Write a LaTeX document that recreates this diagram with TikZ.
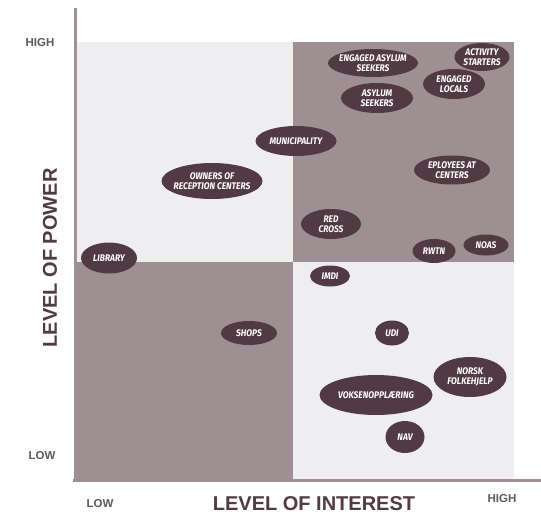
\documentclass[tikz,border=0pt]{standalone}
\usepackage{fontspec}
\setmainfont{Liberation Sans}
\newfontfamily\stakefont[FakeStretch=0.88]{Fira Sans}
\usetikzlibrary{shapes.geometric}
\definecolor{quadlight}{HTML}{EEEEF0}
\definecolor{quaddark}{HTML}{9D8F92}
\definecolor{stakefill}{HTML}{523A45}
\definecolor{axisline}{HTML}{9E9094}
\definecolor{levelgray}{HTML}{5B5B5B}

\begin{document}
\begin{tikzpicture}[x=1pt,y=-1pt,
	stake/.style={
		ellipse,
		fill=stakefill,
		text=white,
		inner xsep=-3pt,
		inner ysep=-2pt,
		align=center,
		font=\stakefont\bfseries\itshape\fontsize{9.6}{10}\selectfont
	},
	level/.style={font=\bfseries\fontsize{11.5}{12}\selectfont,text=levelgray},
	axistitle/.style={font=\bfseries\fontsize{20}{22}\selectfont,text=stakefill}
	]
	\useasboundingbox (0,0) rectangle (541,514);
	
	% quadrants
	\fill[quadlight] (77,42) rectangle (293,262);
	\fill[quaddark] (293,42) rectangle (514,262);
	\fill[quaddark] (77,262) rectangle (293,479);
	\fill[quadlight] (293,262) rectangle (514,479);
	
	% axes
	\draw[axisline,line width=3pt] (75,8) -- (75,481);
	\draw[axisline,line width=3pt] (73,480) -- (541,480);
	
	\node[level] (powhigh) at (40,43) {HIGH};
	\node[level] (powlow) at (42,456) {LOW};
	\node[level] (intlow) at (100,504) {LOW};
	\node[level] (inthigh) at (502,499) {HIGH};
	
	\node[axistitle,rotate=90] (power) at (50,258) {LEVEL OF POWER};
	\node[axistitle] (interest) at (314,504) {LEVEL OF INTEREST};
	
	% stakeholders
	\node[stake,minimum width=90pt,minimum height=28pt] (easylum) at (373,63) {ENGAGED ASYLUM\\SEEKERS};
	\node[stake,minimum width=55pt,minimum height=28pt] (starters) at (482,57) {ACTIVITY\\STARTERS};
	\node[stake,minimum width=62pt,minimum height=30pt] (locals) at (454,84) {ENGAGED\\LOCALS};
	\node[stake,minimum width=72pt,minimum height=30pt] (asylum) at (377,98) {ASYLUM\\SEEKERS};
	\node[stake,minimum width=81pt,minimum height=30pt] (municip) at (296,141) {MUNICIPALITY};
	\node[stake,minimum width=101pt,minimum height=36pt] (owners) at (212,181) {OWNERS OF\\RECEPTION CENTERS};
	\node[stake,minimum width=76pt,minimum height=29pt] (employees) at (452,170) {EPLOYEES AT\\CENTERS};
	\node[stake,minimum width=60pt,minimum height=30pt] (redcross) at (331,224) {RED\\CROSS};
	\node[stake,minimum width=43pt,minimum height=24pt] (rwtn) at (434,251) {RWTN};
	\node[stake,minimum width=45pt,minimum height=21pt] (noas) at (486,245) {NOAS};
	\node[stake,minimum width=56pt,minimum height=31pt] (library) at (109,258) {LIBRARY};
	\node[stake,minimum width=40pt,minimum height=21pt] (imdi) at (330,276) {IMDI};
	\node[stake,minimum width=56pt,minimum height=24pt] (shops) at (249,333) {SHOPS};
	\node[stake,minimum width=34pt,minimum height=25pt] (udi) at (392,333) {UDI};
	\node[stake,minimum width=73pt,minimum height=40pt] (norsk) at (470,377) {NORSK\\FOLKEHJELP};
	\node[stake,minimum width=113pt,minimum height=40pt] (voksen) at (376,395) {VOKSENOPPLÆRING};
	\node[stake,minimum width=39pt,minimum height=32pt] (nav) at (405,437) {NAV};
\end{tikzpicture}
\end{document}
